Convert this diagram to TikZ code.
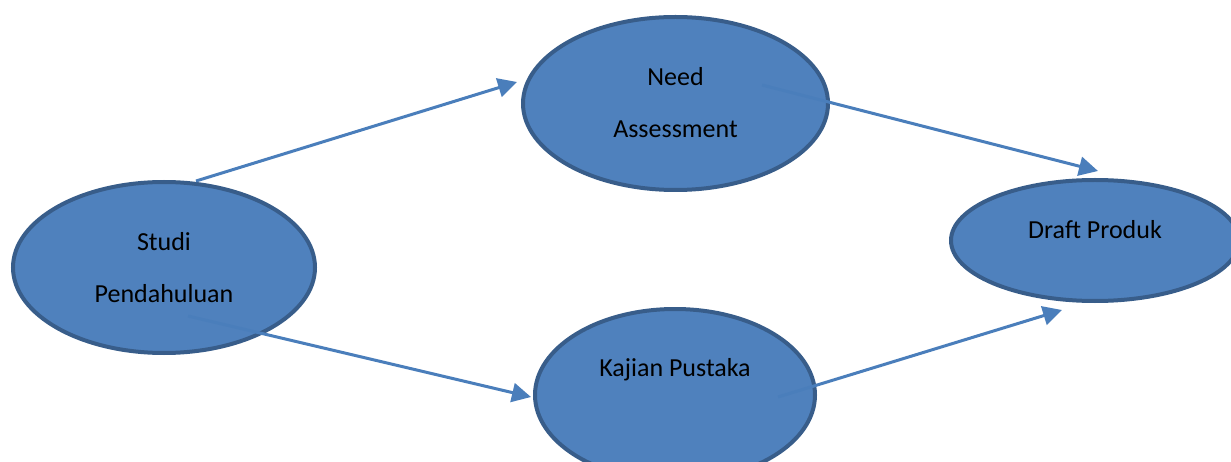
\documentclass[tikz,border=0pt]{standalone}
\usepackage{fontspec}
\setmainfont{Carlito}
\usetikzlibrary{shapes.geometric,arrows.meta,calc}
\definecolor{ellfill}{HTML}{4F81BD}
\definecolor{elldraw}{HTML}{385D8A}
\definecolor{arrcol}{HTML}{4A7EBB}
\tikzset{
  ell/.style={ellipse,draw=elldraw,fill=ellfill,line width=4pt,inner sep=0pt},
  txt/.style={align=center,inner sep=0pt,font=\fontsize{26}{52}\selectfont,text=black},
  arr/.style={draw=arrcol,line width=3pt,-{Triangle[length=19pt,width=19pt]}}
}
\begin{document}
\begin{tikzpicture}[x=1pt,y=-1pt]
\useasboundingbox (0,0) rectangle (1231,462);
\node[ell,minimum width=302pt,minimum height=171pt] (studi) at (164,267.5) {};
\node[ell,minimum width=305pt,minimum height=173pt] (need) at (675.5,103.5) {};
\node[ell,minimum width=280pt,minimum height=172pt] (kajian) at (675,395) {};
\node[ell,minimum width=288pt,minimum height=121pt] (draft) at (1095,240.5) {};
\node[txt] (tstudi) at ($(studi.center)+(0,0)$) {Studi\\Pendahuluan};
\node[txt] (tneed) at ($(need.center)+(0,-1)$) {Need\\Assessment};
\node[txt] (tkajian) at ($(kajian.center)+(0,-25)$) {Kajian Pustaka};
\node[txt] (tdraft) at ($(draft.center)+(0,-10.5)$) {Draft Produk};
\coordinate (s1) at ($(studi.center)+(32,-86.5)$);
\coordinate (e1) at ($(need.center)+(-158.5,-21.5)$);
\coordinate (s2) at ($(need.center)+(86.5,-18.5)$);
\coordinate (e2) at ($(draft.center)+(3,-69.5)$);
\coordinate (s3) at ($(studi.center)+(24,48.5)$);
\coordinate (e3) at ($(kajian.center)+(-144,2)$);
\coordinate (s4) at ($(kajian.center)+(103,2)$);
\coordinate (e4) at ($(draft.center)+(-33,69.5)$);
\draw[arr] (s1) -- (e1);
\draw[arr] (s2) -- (e2);
\draw[arr] (s3) -- (e3);
\draw[arr] (s4) -- (e4);
\end{tikzpicture}
\end{document}
